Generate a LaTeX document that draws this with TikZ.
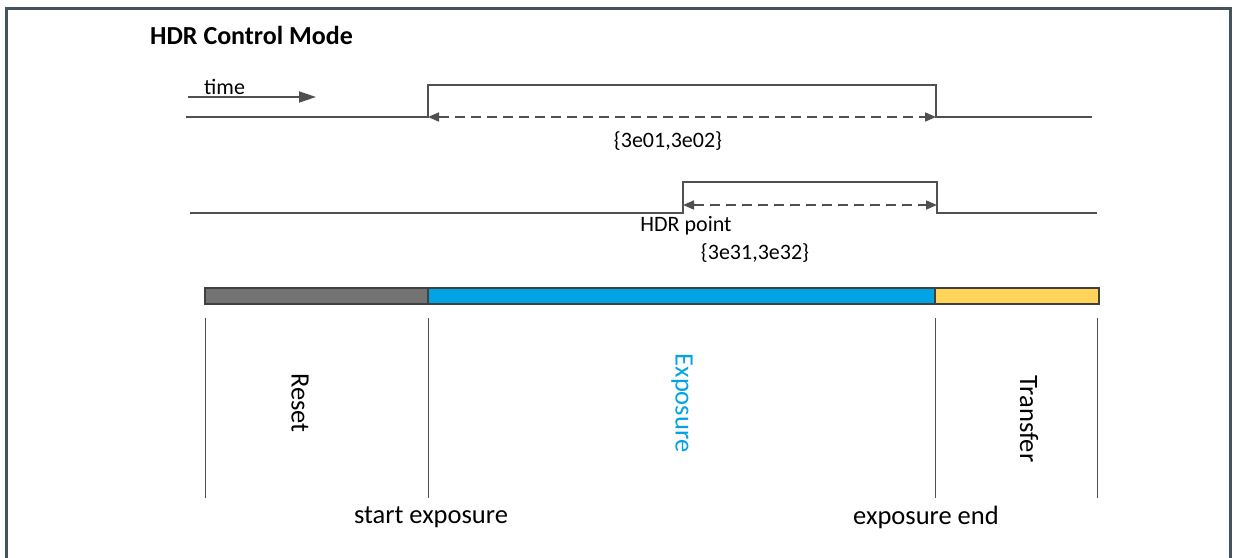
\documentclass[tikz,border=0pt]{standalone}
\usepackage{fontspec}
\setmainfont{Carlito}
\usetikzlibrary{arrows.meta}
\definecolor{frame}{HTML}{46525E}
\definecolor{sig}{HTML}{505050}
\definecolor{rgray}{HTML}{737373}
\definecolor{eblue}{HTML}{00A3E4}
\definecolor{tyell}{HTML}{FFD458}
\definecolor{bord}{HTML}{404040}
\tikzset{
  sigline/.style={draw=sig, line width=1.8pt, line join=miter},
  dimarrow/.style={draw=sig, line width=1.6pt, dash pattern=on 10pt off 6pt, {Triangle[length=11pt,width=9pt]}-{Triangle[length=11pt,width=9pt]}},
  tick/.style={draw=sig, line width=1pt},
  seg/.style={draw=bord, line width=1.4pt},
  small/.style={font=\fontsize{22}{26}\selectfont, inner sep=0pt},
  big/.style={font=\fontsize{26.5}{30}\selectfont, inner sep=0pt},
}
\begin{document}
\begin{tikzpicture}[x=1pt,y=-1pt]
\useasboundingbox (0,0) rectangle (1237,557);
\fill[white] (0,0) rectangle (1237,557);
% frame
\draw[frame, line width=3pt] (6,570) -- (6,8) -- (1230,8) -- (1230,570);
% title
\node[anchor=west, inner sep=0pt, font=\fontsize{26}{30}\selectfont\bfseries] (title) at (150,35) {HDR Control Mode};
% time arrow
\coordinate (t0) at (188,97);
\coordinate (t1) at (316,97);
\draw[sigline, -{Triangle[length=17pt,width=11pt]}] (t0) -- (t1);
\node[small, anchor=south west] (time) at (204,95) {time};
% signal 1
\coordinate (a0) at (186,117);
\coordinate (a1) at (428,117);
\coordinate (a2) at (936,117);
\coordinate (a3) at (1092,117);
\draw[sigline] (a0) -- (a1) -- ++(0,-32) -| (a2) -- (a3);
\draw[dimarrow] (a1) -- (a2);
\node[small] (l1) at (668,141) {\{3e01,3e02\}};
% signal 2
\coordinate (b0) at (190,213);
\coordinate (b1) at (683,213);
\coordinate (b2) at (937,213);
\coordinate (b3) at (1097,213);
\coordinate (c1) at (683,205);
\coordinate (c2) at (937,205);
\draw[sigline] (b0) -- (b1) -- ++(0,-31) -| (b2) -- (b3);
\draw[dimarrow] (c1) -- (c2);
\node[small] (hdr) at (686,226) {HDR point};
\node[small] (l2) at (755,253) {\{3e31,3e32\}};
% bar
\coordinate (r0) at (205,288);
\coordinate (r1) at (428,304);
\coordinate (e0) at (428,288);
\coordinate (e1) at (935,304);
\coordinate (y0) at (935,288);
\coordinate (y1) at (1099,304);
\draw[seg, fill=rgray] (r0) rectangle (r1);
\draw[seg, fill=eblue] (e0) rectangle (e1);
\draw[seg, fill=tyell] (y0) rectangle (y1);
% ticks
\foreach \x/\n in {205/k1,428/k2,935/k3,1097/k4}{
  \coordinate (\n a) at (\x,318);
  \coordinate (\n b) at (\x,498);
  \draw[tick] (\n a) -- (\n b);
}
% phase labels
\node[big, rotate=-90] (reset) at (300,403) {Reset};
\node[big, rotate=-90, text=eblue] (expo) at (682,403) {Exposure};
\node[big, rotate=-90] (trans) at (1029,419) {Transfer};
\node[big] (start) at (431,517) {start exposure};
\node[big] (endl) at (926,517) {exposure end};
\end{tikzpicture}
\end{document}
